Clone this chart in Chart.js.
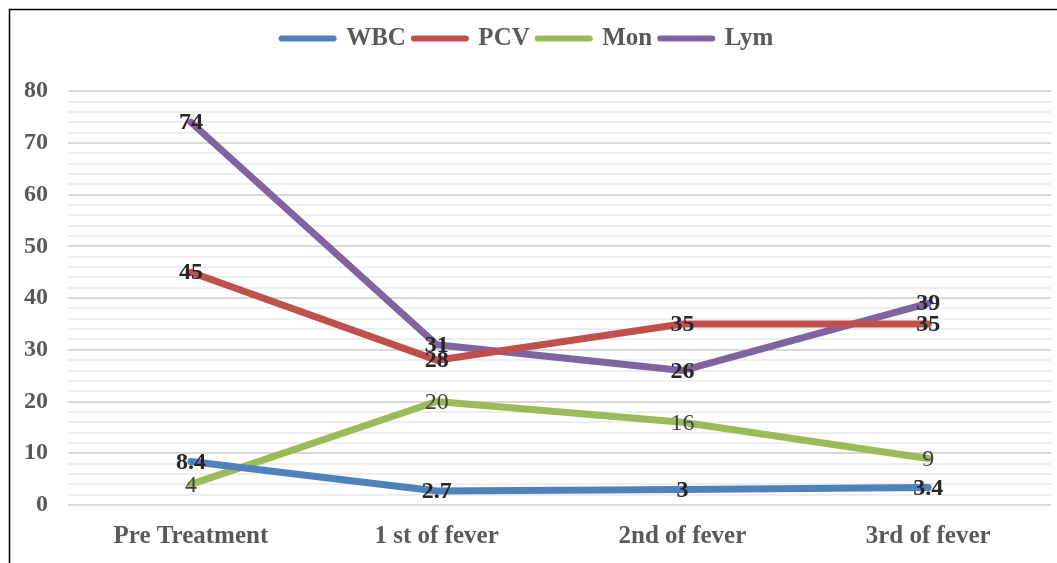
<!DOCTYPE html>
<html>
<head>
<meta charset="utf-8">
<script src="https://cdn.jsdelivr.net/npm/chart.js@4"></script>
<style>
  html, body { margin: 0; padding: 0; background: #fff; }
  #wrap { width: 1057px; height: 563px; position: relative; }
</style>
</head>
<body>
<div id="wrap"><canvas id="chartBlood"></canvas></div>
<script>
const stages = ['Pre Treatment', '1 st of fever', '2nd of fever', '3rd of fever'];
const wbc = [8.4, 2.7, 3, 3.4];
const pcv = [45, 28, 35, 35];
const mon = [4, 20, 16, 9];
const lym = [74, 31, 26, 39];

// frame of the original figure (only top/left edges are in view)
const framePlugin = {
  id: 'frame',
  beforeDraw(chart) {
    const c = chart.ctx;
    c.save();
    c.fillStyle = '#fff';
    c.fillRect(0, 0, chart.width, chart.height);
    c.strokeStyle = '#000';
    c.lineWidth = 1.5;
    c.beginPath();
    c.moveTo(9.5, chart.height);
    c.lineTo(9.5, 9.5);
    c.lineTo(chart.width, 9.5);
    c.stroke();
    c.restore();
  }
};

// value labels centred on each point
const valueLabels = {
  id: 'valueLabels',
  afterDatasetsDraw(chart) {
    const c = chart.ctx;
    c.save();
    c.textAlign = 'center';
    c.textBaseline = 'middle';
    chart.data.datasets.forEach((ds, i) => {
      const meta = chart.getDatasetMeta(i);
      c.font = (ds.label === 'Mon' ? '' : 'bold ') + '24px "Liberation Serif", "Times New Roman", serif';
      c.fillStyle = ds.label === 'Mon' ? '#404040' : '#262626';
      meta.data.forEach((pt, j) => {
        c.fillText(String(ds.data[j]), pt.x, pt.y + 1);
      });
    });
    c.restore();
  }
};

const serif = '"Liberation Serif", "Times New Roman", serif';

new Chart(document.getElementById('chartBlood').getContext('2d'), {
  type: 'line',
  data: {
    labels: stages,
    datasets: [
      { label: 'WBC', data: wbc, borderColor: '#4f81bd', backgroundColor: '#4f81bd' },
      { label: 'PCV', data: pcv, borderColor: '#c0504d', backgroundColor: '#c0504d' },
      { label: 'Mon', data: mon, borderColor: '#9bbb59', backgroundColor: '#9bbb59' },
      { label: 'Lym', data: lym, borderColor: '#8064a2', backgroundColor: '#8064a2' }
    ]
  },
  options: {
    responsive: true,
    maintainAspectRatio: false,
    animation: false,
    layout: { padding: { left: 4, right: 6, top: 18, bottom: 2 } },
    elements: {
      line: { borderWidth: 7, tension: 0, borderCapStyle: 'round', borderJoinStyle: 'round' },
      point: { radius: 0, hoverRadius: 0 }
    },
    plugins: {
      tooltip: { enabled: false },
      // empty title used only as a spacer between legend and plot
      title: {
        display: true,
        text: '',
        weight: 500,
        font: { size: 1 },
        padding: { top: 14, bottom: 15 }
      },
      legend: {
        position: 'top',
        labels: {
          usePointStyle: true,
          pointStyleWidth: 52,
          color: '#595959',
          font: { family: serif, size: 25, weight: 'bold' },
          padding: 8,
          generateLabels(chart) {
            return chart.data.datasets.map((ds, i) => ({
              text: ds.label,
              fillStyle: ds.borderColor,
              strokeStyle: ds.borderColor,
              lineWidth: 6,
              lineCap: 'round',
              pointStyle: 'line',
              hidden: false,
              datasetIndex: i,
              fontColor: '#595959'
            }));
          }
        }
      }
    },
    scales: {
      x: {
        offset: true,
        grid: { display: false },
        border: { display: false },
        ticks: {
          color: '#595959',
          padding: 9,
          font: { family: serif, size: 25, weight: 'bold' },
          maxRotation: 0
        }
      },
      y: {
        min: 0,
        max: 80,
        border: { display: false },
        grid: {
          drawTicks: false,
          lineWidth: 2,
          color: ctx => (ctx.tick && ctx.tick.value % 10 === 0) ? '#d9d9d9' : '#eeeeee'
        },
        ticks: {
          stepSize: 2,
          autoSkip: false,
          padding: 20,
          color: '#595959',
          font: { family: serif, size: 24, weight: 'bold' },
          callback: v => (v % 10 === 0 ? v : '')
        }
      }
    }
  },
  plugins: [framePlugin, valueLabels]
});
</script>
</body>
</html>
